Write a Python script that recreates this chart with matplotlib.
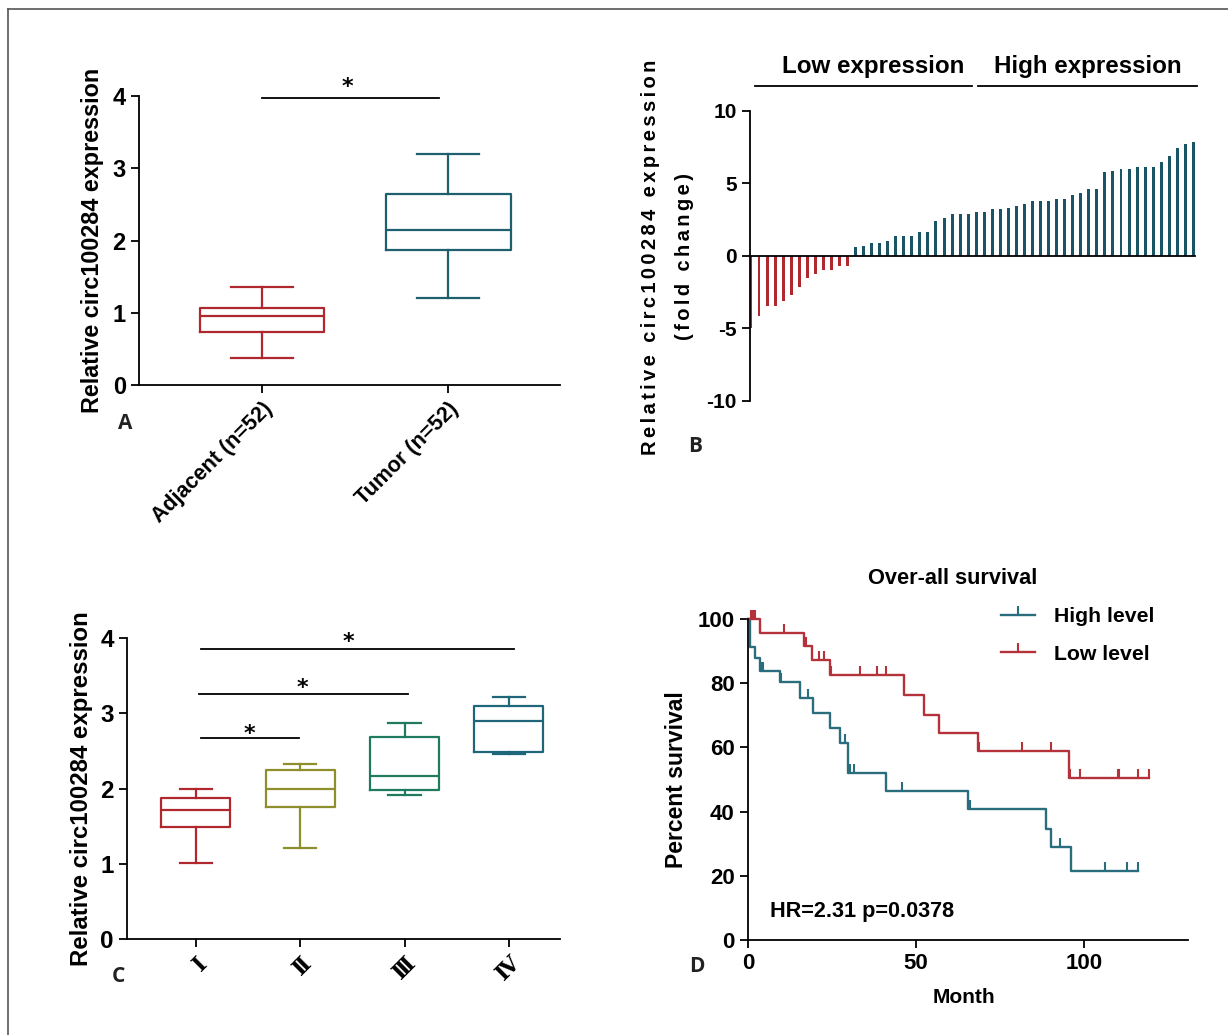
import numpy as np
import matplotlib
matplotlib.use("Agg")
import matplotlib.pyplot as plt
from matplotlib.lines import Line2D

plt.rcParams["axes.unicode_minus"] = False

# ---------------- data ----------------
# Panel A: box stats (whislo, q1, med, q3, whishi)
a_labels = ["Adjacent (n=52)", "Tumor (n=52)"]
a_adjacent = [0.37, 0.73, 0.95, 1.06, 1.35]
a_tumor = [1.20, 1.87, 2.15, 2.64, 3.20]

# Panel B: fold change per sample (sorted)
b_low = [-5.01, -4.16, -3.45, -3.45, -3.15, -2.71, -2.14, -1.56, -1.26, -1.01,
         -0.99, -0.71, -0.71]
b_high = [0.62, 0.69, 0.92, 0.92, 1.03, 1.36, 1.36, 1.36, 1.63, 1.63,
          2.39, 2.64, 2.90, 2.90, 2.90, 3.06, 3.06, 3.20, 3.20, 3.33,
          3.47, 3.61, 3.77, 3.77, 3.77, 3.91, 3.91, 4.18, 4.34, 4.60,
          4.60, 5.77, 5.89, 6.02, 6.02, 6.16, 6.16, 6.16, 6.46, 6.90,
          7.45, 7.75, 7.89]

# Panel C: box stats by stage
c_labels = ["\u2160", "\u2161", "\u2162", "\u2163"]
c_stage1 = [1.01, 1.49, 1.71, 1.87, 1.99]
c_stage2 = [1.21, 1.76, 1.99, 2.24, 2.32]
c_stage3 = [1.91, 1.98, 2.16, 2.68, 2.87]
c_stage4 = [2.46, 2.48, 2.90, 3.10, 3.21]

# Panel D: Kaplan-Meier steps
high_t = [0, 0.5, 2.0, 3.5, 9.4, 15.4, 19.3, 24.5, 27.3, 29.8, 41.2, 65.6, 88.8, 90.3, 96.2]
high_s = [100, 91.4, 87.7, 83.9, 80.5, 75.3, 70.6, 65.9, 61.5, 51.9, 46.3, 40.8, 34.5, 29.1, 21.5]
high_censor = [4.0, 4.6, 9.8, 17.8, 29.0, 30.5, 31.7, 45.8, 66.0, 92.8, 106.2, 112.8, 116.1]
low_t = [0, 3.5, 16.7, 19.1, 24.3, 46.3, 52.3, 57.0, 68.5, 95.5]
low_s = [100, 95.7, 91.6, 87.2, 82.6, 76.2, 70.0, 64.4, 58.9, 50.6]
low_censor = [0.8, 1.4, 2.0, 3.6, 10.7, 17.3, 21.1, 22.6, 24.6, 33.2, 38.4, 41.2,
              68.8, 81.6, 90.3, 95.8, 98.7, 110.1, 110.6, 116.1, 119.3]

# ---------------- styling ----------------
FONT = "Liberation Sans"
BOLD = "bold"

RED = "#b0272e"
TEAL = "#1d5f6e"
TEAL_B = "#1a5565"
OLIVE = "#8e8f2c"
GREEN = "#1f7a5f"
TEAL_C = "#20667a"
RED_D = "#b5323a"
TEAL_D = "#2a6e7e"

W, H = 1228, 1035
fig = plt.figure(figsize=(W / 100, H / 100), dpi=100)


def axes_px(left, top, right, bottom):
    return fig.add_axes([left / W, 1 - bottom / H, (right - left) / W, (bottom - top) / H])


def ftext(x, y, s, **kw):
    fig.text(x / W, 1 - y / H, s, **kw)


def style_axes(ax, tick_fs):
    ax.spines["top"].set_visible(False)
    ax.spines["right"].set_visible(False)
    for sp in ("left", "bottom"):
        ax.spines[sp].set_linewidth(1.3)
    ax.tick_params(direction="out", length=6, width=1.3, labelsize=tick_fs)
    for lab in ax.get_yticklabels() + ax.get_xticklabels():
        lab.set_fontfamily(FONT)
        lab.set_fontweight(BOLD)
    ax.set_facecolor("none")


def make_stats(vals):
    lo, q1, med, q3, hi = vals
    return dict(whislo=lo, q1=q1, med=med, q3=q3, whishi=hi, fliers=[])


def color_boxes(res, colors):
    for i, c in enumerate(colors):
        res["boxes"][i].set_color(c)
        res["medians"][i].set_color(c)
        for k in (2 * i, 2 * i + 1):
            res["whiskers"][k].set_color(c)
            res["caps"][k].set_color(c)


box_lw = 1.6
bp_kw = dict(boxprops=dict(linewidth=box_lw), whiskerprops=dict(linewidth=box_lw),
             capprops=dict(linewidth=box_lw), medianprops=dict(linewidth=box_lw),
             showfliers=False, manage_ticks=False)

# frame border
fig.add_artist(Line2D([8 / W, 8 / W], [1 - 9 / H, 0], color="#555555", lw=1.2))
fig.add_artist(Line2D([8 / W, 1], [1 - 9 / H, 1 - 9 / H], color="#555555", lw=1.2))

LETTER_KW = dict(fontsize=15, fontfamily="Open Sans", fontweight="bold",
                 ha="center", va="center", color="#222222")

# ---------------- Panel A ----------------
axA = axes_px(139, 96, 560, 385)
resA = axA.bxp([make_stats(a_adjacent), make_stats(a_tumor)], positions=[0, 1],
               widths=0.67, capwidths=0.33, **bp_kw)
color_boxes(resA, [RED, TEAL])
axA.set_xlim(-0.66, 1.6)
axA.set_ylim(0, 4)
axA.set_yticks([0, 1, 2, 3, 4])
axA.set_xticks([0, 1])
axA.set_xticklabels(a_labels, rotation=45, ha="right", rotation_mode="anchor")
style_axes(axA, 17)
for lab in axA.get_xticklabels():
    lab.set_fontsize(15.5)
axA.plot([0, 0.95], [3.97, 3.97], color="black", lw=1.3, clip_on=False)
axA.text(0.46, 4.12, "*", ha="center", va="center", fontsize=16, fontweight="bold")
axA.set_ylabel("Relative circ100284 expression", fontsize=16.8, fontfamily=FONT,
               fontweight=BOLD)
axA.yaxis.set_label_coords(-0.083, 0.5)
ftext(125, 423, "A", **LETTER_KW)

# ---------------- Panel B ----------------
axB = axes_px(750, 111, 1195, 400.7)
b_vals = b_low + b_high
b_idx = np.arange(len(b_vals))
b_cols = [RED if v < 0 else TEAL_B for v in b_vals]
axB.bar(b_idx, b_vals, width=0.37, color=b_cols)
axB.set_xlim(-0.12, 55.2)
axB.set_ylim(-10, 10)
axB.set_yticks([-10, -5, 0, 5, 10])
axB.spines["bottom"].set_position(("data", 0))
axB.set_xticks([])
style_axes(axB, 15)
axB.tick_params(axis="x", length=0)
axB.plot([0.5, 27.5], [11.7, 11.7], color="black", lw=1.3, clip_on=False)
axB.plot([28.2, 55.5], [11.7, 11.7], color="black", lw=1.3, clip_on=False)
ftext(873, 66, "Low expression", fontsize=17.4, fontfamily=FONT, fontweight=BOLD,
      ha="center", va="center")
ftext(1088, 66, "High expression", fontsize=17.4, fontfamily=FONT, fontweight=BOLD,
      ha="center", va="center")
sp = "\u2006"
lab1 = sp.join("Relative circ100284 expression")
lab2 = sp.join("(fold change)")
ftext(650, 257, lab1, rotation=90, fontsize=14.5, fontfamily=[FONT, "DejaVu Sans"],
      fontweight="bold", ha="center", va="center")
ftext(685, 256, lab2, rotation=90, fontsize=14.5, fontfamily=[FONT, "DejaVu Sans"],
      fontweight="bold", ha="center", va="center")
ftext(695, 447, "B", **LETTER_KW)

# ---------------- Panel C ----------------
axC = axes_px(127, 638, 560, 939)
resC = axC.bxp([make_stats(v) for v in (c_stage1, c_stage2, c_stage3, c_stage4)],
               positions=[0, 1, 2, 3], widths=0.66, capwidths=0.31, **bp_kw)
color_boxes(resC, [RED, OLIVE, GREEN, TEAL_C])
axC.set_xlim(-0.66, 3.49)
axC.set_ylim(0, 4)
axC.set_yticks([0, 1, 2, 3, 4])
axC.set_xticks([0, 1, 2, 3])
axC.set_xticklabels(c_labels, rotation=45, ha="right", rotation_mode="anchor")
style_axes(axC, 17.5)
for lab in axC.get_xticklabels():
    lab.set_fontfamily(["DejaVu Serif", "Noto Sans CJK SC", "DejaVu Sans"])
    lab.set_fontsize(16)
    lab.set_fontweight("bold")
sig = [(0.05, 0.99, 2.67, 0.51, 2.83), (0.03, 2.03, 3.25, 1.02, 3.43), (0.05, 3.05, 3.86, 1.46, 4.05)]
for x0, x1, y, xs, ys in sig:
    axC.plot([x0, x1], [y, y], color="black", lw=1.3, clip_on=False)
    axC.text(xs, ys - 0.1, "*", ha="center", va="center", fontsize=16, fontweight="bold")
axC.set_ylabel("Relative circ100284 expression", fontsize=17.3, fontfamily=FONT,
               fontweight=BOLD)
axC.yaxis.set_label_coords(-0.079, 0.5)
ftext(118, 976, "C", **LETTER_KW)

# ---------------- Panel D ----------------
axD = axes_px(748, 619, 1188, 940)
TICK_MK = [(0, 0), (0, 1)]


def km(ax, t, s, cens, color, label):
    t_end = max(cens[-1], t[-1])
    tt = list(t) + [t_end]
    ss = list(s) + [s[-1]]
    ax.step(tt, ss, where="post", color=color, lw=1.7, clip_on=False)
    idx = np.searchsorted(t, cens, side="right") - 1
    cs = np.asarray(s)[idx]
    ax.plot(cens, cs, ls="none", marker=TICK_MK, markersize=13,
            mew=1.5, color=color, clip_on=False)
    return Line2D([], [], color=color, lw=1.7, marker=TICK_MK,
                  markersize=13, mew=1.5, label=label)


hH = km(axD, high_t, high_s, high_censor, TEAL_D, "High level")
hL = km(axD, low_t, low_s, low_censor, RED_D, "Low level")
axD.set_xlim(0, 131)
axD.set_ylim(0, 100)
axD.set_yticks([0, 20, 40, 60, 80, 100])
axD.set_xticks([0, 50, 100])
style_axes(axD, 16)
axD.set_xlabel("Month", fontsize=15, fontfamily=FONT, fontweight=BOLD)
axD.set_ylabel("Percent survival", fontsize=16.5, fontfamily=FONT, fontweight=BOLD)
axD.yaxis.set_label_coords(-0.136, 0.5)
axD.xaxis.set_label_coords(0.49, -0.148)
ftext(953, 578, "Over-all survival", fontsize=15.7, fontfamily=FONT, fontweight=BOLD,
      ha="center", va="center")
leg = fig.legend(handles=[hH, hL], loc="upper left", bbox_to_anchor=(1001 / W, 1 - 607 / H),
                 frameon=False, numpoints=1, handlelength=1.6, handletextpad=0.9,
                 labelspacing=0.88, borderpad=0, borderaxespad=0,
                 prop=dict(family=FONT, size=15.3, weight="bold"))
axD.text(6.5, 9, "HR=2.31 p=0.0378", fontsize=15.6, fontfamily=FONT, fontweight=BOLD,
         ha="left", va="center")
ftext(697, 966, "D", **LETTER_KW)

fig.savefig("out.png", dpi=100, facecolor="white")
